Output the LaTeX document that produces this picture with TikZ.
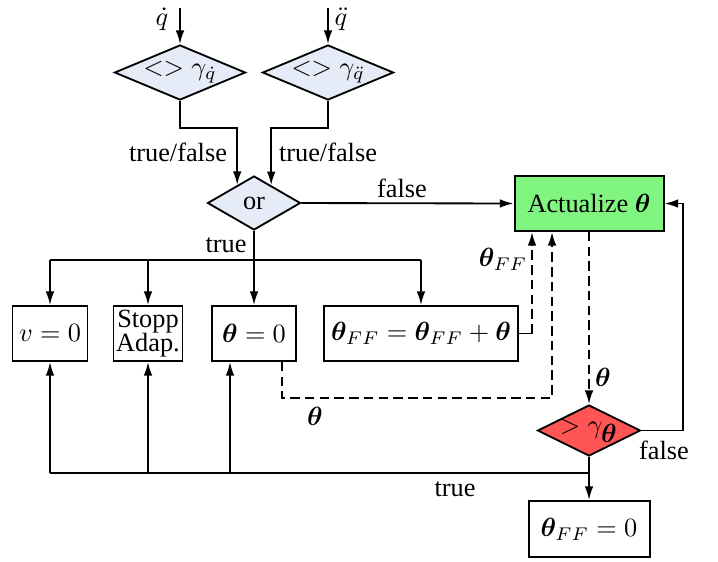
\documentclass[tikz,border=0pt]{standalone}
\usepackage{amsmath}
\usepackage{bm}
\usepackage{fontspec}
\setmainfont{Liberation Serif}
\usetikzlibrary{shapes.geometric,arrows.meta,calc}
\def\pxu{0.38pt}
\definecolor{dblue}{RGB}{230,236,247}
\definecolor{agreen}{RGB}{128,245,128}
\definecolor{ared}{RGB}{255,85,85}
\tikzset{
  arr/.style={-{Latex[length=5.2pt,width=3.3pt]}},
  dsh/.style={dash pattern=on 3.6pt off 2pt},
  box/.style={draw,line width=0.75pt,inner sep=1pt,minimum height=55*\pxu},
  dia/.style={draw,line width=0.7pt,diamond,inner sep=-1.5pt,fill=dblue},
  lbl/.style={inner sep=0pt}
}
\begin{document}
\begin{tikzpicture}[x=0.38pt,y=-0.38pt,line width=0.7pt]
\useasboundingbox (0,0) rectangle (718,561);
% diamonds
\node[dia,aspect=2.38,minimum width=131*\pxu,minimum height=55*\pxu] (d1) at (180,72.5) {$<>\gamma_{\dot q}$};
\node[dia,aspect=2.38,minimum width=131*\pxu,minimum height=55*\pxu] (d2) at (328,72.5) {$<>\gamma_{\ddot q}$};
\node[dia,aspect=1.72,minimum width=93*\pxu,minimum height=54*\pxu] (or) at (254,203) {or};
\node[dia,aspect=2.02,fill=ared,minimum width=103*\pxu,minimum height=51*\pxu] (rd) at (589,430.5) {$>\gamma_{\textstyle\bm\theta}$};
% boxes
\node[box,minimum width=75*\pxu] (v0) at (50,333.5) {$v=0$};
\node[box,minimum width=69*\pxu,inner sep=0.5pt,align=center] (st) at (148,333.5) {Stopp\\[-3pt]Adap.};
\node[box,minimum width=84*\pxu] (th0) at (254,333.5) {$\bm\theta=0$};
\node[box,minimum width=194*\pxu] (ff) at (421,333.5) {$\bm\theta_{FF}=\bm\theta_{FF}+\bm\theta$};
\node[box,fill=agreen,minimum width=149*\pxu] (act) at (589,203.5) {Actualize $\bm\theta$};
\node[box,minimum width=121*\pxu,minimum height=56*\pxu] (ff0) at (589,529) {$\bm\theta_{FF}=0$};
% labels
\node[lbl] (lq1) at (162,19) {$\dot q$};
\node[lbl] (lq2) at (341,19) {$\ddot q$};
\node[lbl] (ltf1) at (178,152) {true/false};
\node[lbl] (ltf2) at (328,152) {true/false};
\node[lbl] (lfalse1) at (402,188) {false};
\node[lbl] (ltrue1) at (226,245) {true};
\node[lbl] (lff) at (503,259) {$\bm\theta_{FF}$};
\node[lbl] (lth1) at (315,416) {$\bm\theta$};
\node[lbl] (lth2) at (603,377) {$\bm\theta$};
\node[lbl] (lfalse2) at (664,450) {false};
\node[lbl] (ltrue2) at (455,489) {true};
% coordinates
\coordinate (q1) at (180,8);
\coordinate (q2) at (328,8);
\coordinate (mid) at (0,128);
\coordinate (bus) at (0,260);
\coordinate (bot) at (0,473);
\coordinate (s1) at (532,333.5);
\coordinate (dA) at (282,398);
\coordinate (cA) at (552,398);
\coordinate (rr) at (683,430.5);
\coordinate (u3) at (230,473);
% connectors
\draw[arr] (q1) -- (d1.north);
\draw[arr] (q2) -- (d2.north);
\draw[arr] (d1.south) -- (d1.south |- mid) -| (or.133.5);
\draw[arr] (d2.south) -- (d2.south |- mid) -| (or.46.5);
\draw[arr] (or.east) -- (act.west);
\draw (or.south) -- (or.south |- bus);
\draw (v0.north |- bus) -- (ff.north |- bus);
\draw[arr] (v0.north |- bus) -- (v0.north);
\draw[arr] (st.north |- bus) -- (st.north);
\draw[arr] (th0.north |- bus) -- (th0.north);
\draw[arr] (ff.north |- bus) -- (ff.north);
\draw (ff.east) -- (s1);
\draw[arr,dsh] (s1) -- (s1 |- act.south);
\draw[arr,dsh] (th0.south -| dA) -- (dA) -- (cA) -- (cA |- act.south);
\draw[arr,dsh] (act.south) -- (rd.north);
\draw[arr] (rd.east) -- (rr) |- (act.east);
\draw[arr] (rd.south) -- (ff0.north);
\draw (rd.south |- bot) -- (v0.south |- bot);
\draw[arr] (v0.south |- bot) -- (v0.south);
\draw[arr] (st.south |- bot) -- (st.south);
\draw[arr] (u3) -- (u3 |- th0.south);
\end{tikzpicture}
\end{document}
